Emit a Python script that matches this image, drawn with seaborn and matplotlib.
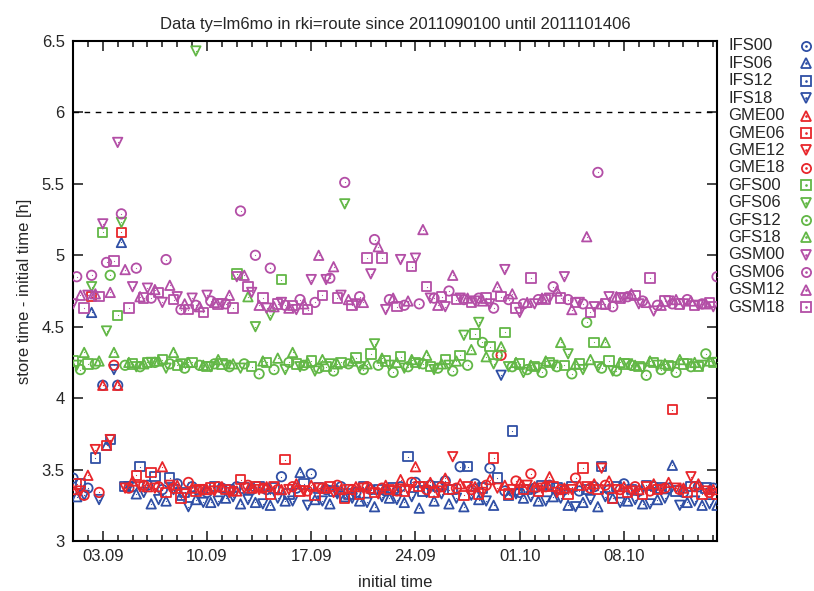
import datetime as dt

import matplotlib
matplotlib.use("Agg")
import matplotlib.pyplot as plt
import matplotlib.dates as mdates
from matplotlib.lines import Line2D
import numpy as np
import pandas as pd
import seaborn as sns

# ── Data: store time - initial time [h], one value per day and run hour ──────
START = dt.datetime(2011, 9, 1)
END = dt.datetime(2011, 10, 14, 6)

ifs00 = [3.44, 3.37, 4.09, 4.09, 3.38, 3.39, 3.36, 3.40, 3.38, 3.34, 3.37, 3.38, 3.36, 3.36, 3.45,
         3.37, 3.47, 3.36, 3.38, 3.34, 3.36, 3.35, 3.38, 3.41, 3.39, 3.42, 3.52, 3.40, 3.51, 3.35,
         3.34, 3.37, 3.39, 3.36, 3.35, 3.38, 3.36, 3.40, 3.35, 3.38, 3.37, 3.34, 3.38, 3.37]
ifs06 = [3.31, 4.60, 3.67, 5.09, 3.33, 3.26, 3.28, 3.32, 3.29, 3.27, 3.30, 3.26, 3.27, 3.25, 3.28,
         3.48, 3.29, 3.26, 3.31, 3.28, 3.24, 3.30, 3.27, 3.23, 3.28, 3.26, 3.24, 3.29, 3.25, 3.32,
         3.30, 3.28, 3.31, 3.25, 3.27, 3.24, 3.30, 3.28, 3.26, 3.29, 3.53, 3.27, 3.25, 3.25]
ifs12 = [3.40, 3.58, 3.71, 3.38, 3.52, 3.45, 3.44, 3.34, 3.36, 3.38, 3.36, 3.37, 3.38, 3.37, 3.33,
         3.40, 3.37, 3.35, 3.33, 3.38, 3.36, 3.37, 3.59, 3.35, 3.38, 3.36, 3.52, 3.37, 3.44, 3.77,
         3.36, 3.39, 3.37, 3.38, 3.36, 3.52, 3.38, 3.36, 3.39, 3.37, 3.35, 3.38, 3.37]
ifs18 = [3.32, 3.29, 4.20, 3.38, 3.34, 3.29, 3.36, 3.24, 3.27, 3.28, 3.31, 3.29, 3.26, 3.30, 3.28,
         3.25, 3.28, 3.33, 3.30, 3.27, 3.31, 3.29, 3.31, 3.34, 3.33, 3.30, 3.32, 3.28, 4.16, 3.33,
         3.31, 3.28, 3.30, 3.24, 3.29, 3.31, 3.27, 3.29, 3.26, 3.30, 3.25, 3.28, 3.26]

gme00 = [3.36, 3.46, 4.09, 4.09, 3.42, 3.38, 3.52, 3.39, 3.37, 3.36, 3.38, 3.35, 3.37, 3.38, 3.36,
         3.40, 3.39, 3.37, 3.36, 3.38, 3.37, 3.39, 3.43, 3.52, 3.41, 3.44, 3.40, 3.38, 3.43, 3.39,
         3.41, 3.38, 3.45, 3.37, 3.39, 3.40, 3.42, 3.38, 3.36, 3.40, 3.41, 3.37, 3.40, 3.36]
gme06 = [3.40, 4.71, 3.67, 5.16, 3.46, 3.48, 3.34, 3.30, 3.35, 3.37, 3.36, 3.43, 3.38, 3.33, 3.57,
         3.35, 3.32, 3.38, 3.30, 3.33, 3.34, 3.36, 3.35, 3.38, 3.34, 3.36, 3.32, 3.33, 3.58, 3.33,
         3.36, 3.35, 3.38, 3.33, 3.51, 3.36, 3.30, 3.34, 3.33, 3.36, 3.92, 3.34, 3.33, 3.33]
gme12 = [3.35, 3.64, 3.71, 3.37, 3.38, 3.37, 3.39, 3.33, 3.36, 3.35, 3.34, 3.37, 3.36, 3.38, 3.36,
         3.35, 3.37, 3.34, 3.36, 3.37, 3.33, 3.35, 3.36, 3.38, 3.35, 3.59, 3.38, 3.34, 3.37, 3.36,
         3.39, 3.37, 3.34, 3.36, 3.38, 3.51, 3.36, 3.35, 3.38, 3.36, 3.37, 3.45, 3.35]
gme18 = [3.32, 3.34, 4.23, 3.37, 3.39, 3.38, 3.37, 3.41, 3.36, 3.38, 3.35, 3.39, 3.37, 3.36, 3.38,
         3.35, 3.37, 3.39, 3.36, 3.38, 3.37, 3.35, 3.41, 3.36, 3.38, 3.37, 3.36, 3.39, 4.30, 3.42,
         3.47, 3.38, 3.36, 3.44, 3.37, 3.39, 3.36, 3.38, 3.35, 3.37, 3.36, 3.38, 3.34]

gfs00 = [4.26, 4.24, 5.16, 4.58, 4.24, 4.25, 4.27, 4.23, 4.25, 4.22, 4.24, 4.87, 4.22, 4.25, 4.83,
         4.24, 4.26, 4.22, 4.25, 4.28, 4.31, 4.26, 4.29, 4.25, 4.22, 4.27, 4.30, 4.45, 4.36, 4.46,
         4.24, 4.22, 4.25, 4.23, 4.24, 4.39, 4.26, 4.24, 4.22, 4.25, 4.23, 4.24, 4.22, 4.25]
gfs06 = [4.23, 4.78, 4.47, 5.23, 4.22, 4.25, 4.21, 4.24, 6.43, 4.22, 4.23, 4.21, 4.50, 4.58, 4.20,
         4.22, 4.19, 4.24, 5.36, 4.22, 4.38, 4.23, 4.21, 4.24, 4.20, 4.23, 4.44, 4.53, 4.24, 4.22,
         4.18, 4.21, 4.23, 4.31, 4.20, 4.22, 4.19, 4.24, 4.21, 4.23, 4.22, 4.24, 4.23, 4.25]
gfs12 = [4.20, 4.24, 4.86, 4.23, 4.22, 4.25, 4.24, 4.21, 4.23, 4.24, 4.22, 4.24, 4.17, 4.20, 4.25,
         4.23, 4.21, 4.19, 4.24, 4.20, 4.23, 4.18, 4.22, 4.24, 4.21, 4.19, 4.23, 4.39, 4.30, 4.22,
         4.20, 4.18, 4.22, 4.17, 4.53, 4.21, 4.19, 4.23, 4.16, 4.20, 4.18, 4.22, 4.31]
gfs18 = [4.32, 4.26, 4.32, 4.25, 4.24, 4.26, 4.32, 4.25, 4.23, 4.27, 4.24, 4.71, 4.26, 4.28, 4.32,
         4.25, 4.27, 4.24, 4.26, 4.24, 4.28, 4.25, 4.27, 4.30, 4.24, 4.26, 4.34, 4.29, 4.36, 4.25,
         4.23, 4.26, 4.39, 4.24, 4.27, 4.39, 4.25, 4.23, 4.26, 4.24, 4.27, 4.25, 4.26]

gsm00 = [4.66, 4.72, 5.22, 5.79, 4.78, 4.77, 4.67, 4.71, 4.70, 4.72, 4.66, 4.85, 4.74, 4.63, 4.67,
         4.62, 4.83, 4.83, 4.72, 4.66, 4.87, 4.62, 4.97, 4.98, 4.70, 4.64, 4.70, 4.68, 4.66, 4.90,
         4.60, 4.66, 4.70, 4.85, 4.67, 4.64, 4.71, 4.70, 4.66, 4.61, 4.68, 4.66, 4.65, 4.64]
gsm06 = [4.85, 4.86, 4.95, 5.29, 4.91, 4.70, 4.97, 4.62, 4.65, 4.68, 4.66, 5.31, 5.00, 4.91, 4.65,
         4.69, 4.67, 4.84, 5.51, 4.71, 5.11, 4.69, 4.65, 4.66, 4.70, 4.75, 4.69, 4.70, 4.63, 4.69,
         4.66, 4.69, 4.78, 4.69, 4.66, 5.58, 4.64, 4.71, 4.68, 4.65, 4.66, 4.69, 4.66, 4.85]
gsm12 = [4.72, 4.73, 4.74, 4.90, 4.71, 4.76, 4.79, 4.66, 4.64, 4.67, 4.72, 4.86, 4.65, 4.64, 4.63,
         4.66, 5.00, 4.92, 4.69, 4.67, 5.06, 4.70, 4.68, 5.18, 4.65, 4.86, 4.70, 4.68, 4.78, 4.73,
         4.67, 4.70, 4.75, 4.62, 5.13, 4.66, 4.71, 4.73, 4.67, 4.65, 4.69, 4.68, 4.66]
gsm18 = [4.63, 4.71, 4.96, 4.63, 4.70, 4.74, 4.69, 4.62, 4.60, 4.66, 4.63, 4.78, 4.70, 4.66, 4.65,
         4.62, 4.72, 4.70, 4.65, 4.98, 4.98, 4.64, 4.92, 4.78, 4.71, 4.69, 4.67, 4.70, 4.71, 4.63,
         4.84, 4.69, 4.70, 4.67, 4.60, 4.66, 4.70, 4.72, 4.84, 4.68, 4.66, 4.65, 4.67]

# ── Series styling (gnuplot-like hollow points with a centre dot) ────────────
BLUE, RED, GREEN, MAGENTA = "#2f4fa5", "#e8262b", "#62b746", "#b34ea6"

series = [
    ("IFS00", 0, ifs00, BLUE, "o"), ("IFS06", 6, ifs06, BLUE, "^"),
    ("IFS12", 12, ifs12, BLUE, "s"), ("IFS18", 18, ifs18, BLUE, "v"),
    ("GME00", 0, gme00, RED, "^"), ("GME06", 6, gme06, RED, "s"),
    ("GME12", 12, gme12, RED, "v"), ("GME18", 18, gme18, RED, "o"),
    ("GFS00", 0, gfs00, GREEN, "s"), ("GFS06", 6, gfs06, GREEN, "v"),
    ("GFS12", 12, gfs12, GREEN, "o"), ("GFS18", 18, gfs18, GREEN, "^"),
    ("GSM00", 0, gsm00, MAGENTA, "v"), ("GSM06", 6, gsm06, MAGENTA, "o"),
    ("GSM12", 12, gsm12, MAGENTA, "^"), ("GSM18", 18, gsm18, MAGENTA, "s"),
]

sns.set_style("ticks")
plt.rcParams["font.family"] = ["Liberation Sans", "DejaVu Sans"]
plt.rcParams["font.size"] = 12

W, H = 814, 591
fig = plt.figure(figsize=(W / 100, H / 100), dpi=100)
ax = fig.add_axes([73 / W, 50 / H, 644 / W, 500 / H])

MS = 46
for k, (name, hour, vals, color, marker) in enumerate(series):
    times = pd.to_datetime([START + dt.timedelta(days=i, hours=hour) for i in range(len(vals))])
    df = pd.DataFrame({"time": times, "value": vals})
    sns.scatterplot(data=df, x="time", y="value", marker=marker, s=MS,
                    facecolors="none", edgecolor=color, linewidth=1.3, ax=ax, zorder=3)
    ax.scatter(df["time"], df["value"], marker=".", s=3, color=color, linewidths=0, zorder=4)

    # legend row: label left-aligned, marker in a column on the right
    ypix = 46 + 17.4 * k
    fig.text(728 / W, 1 - ypix / H, name, ha="left", va="center", fontsize=12)
    fig.add_artist(Line2D([806 / W], [1 - ypix / H], ls="none", marker=marker, ms=6.6,
                          mfc="none", mec=color, mew=1.3))
    fig.add_artist(Line2D([806 / W], [1 - ypix / H], ls="none", marker=".", ms=1.8,
                          color=color))

ax.axhline(6, color="black", ls=(0, (4, 4)), lw=1)

ax.set_xlim(START, END)
ax.set_ylim(3, 6.5)
ax.set_xticks(pd.date_range("2011-09-03", periods=6, freq="7D"))
ax.xaxis.set_major_formatter(mdates.DateFormatter("%d.%m"))
ax.xaxis.set_minor_locator(mdates.DayLocator())
ax.set_yticks(np.arange(3, 6.51, 0.5))
ax.yaxis.set_major_formatter(plt.FormatStrFormatter("%g"))

ax.tick_params(which="both", direction="in", top=True, right=True, width=1.2, labelsize=12)
ax.tick_params(which="major", length=7, pad=6)
ax.tick_params(which="minor", length=4)
for sp in ax.spines.values():
    sp.set_linewidth(1.5)
    sp.set_color("black")

ax.set_xlabel("initial time", fontsize=12, labelpad=8)
ax.set_ylabel("store time - initial time [h]", fontsize=12, labelpad=7)
ax.set_title("Data ty=lm6mo in rki=route since 2011090100 until 2011101406",
             fontsize=12, pad=9)

fig.savefig("out.png", dpi=100)
